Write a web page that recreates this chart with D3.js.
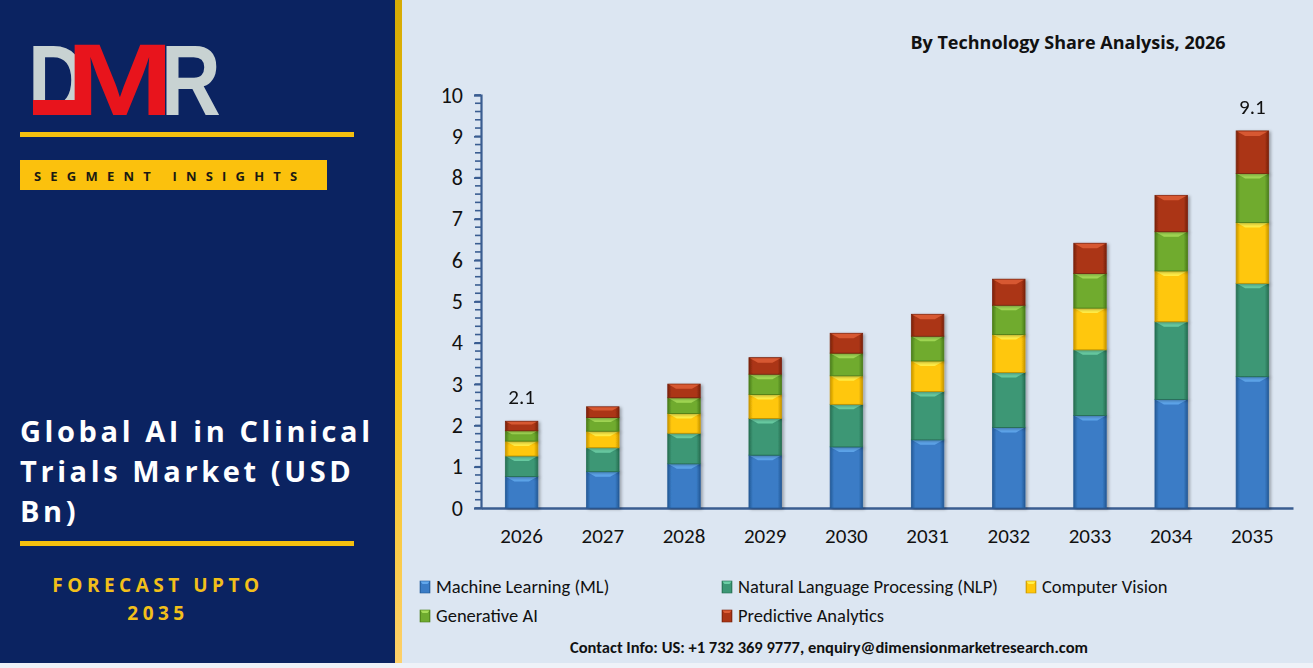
<!DOCTYPE html>
<html>
<head>
<meta charset="utf-8">
<script src="https://cdn.jsdelivr.net/npm/d3@7"></script>
<style>
  html, body { margin: 0; padding: 0; background: #ffffff; }
  svg { display: block; }
</style>
</head>
<body>
<div id="chart"></div>
<script>

// ----------------------------------
// DATA (USD Bn)
// ----------------------------------

const years = ['2026', '2027', '2028', '2029', '2030', '2031', '2032', '2033', '2034', '2035'];

const machineLearning  = [0.76, 0.88, 1.07, 1.28, 1.48, 1.65, 1.95, 2.24, 2.63, 3.18];
const naturalLanguage  = [0.50, 0.58, 0.74, 0.89, 1.03, 1.17, 1.33, 1.59, 1.88, 2.26];
const computerVision   = [0.36, 0.40, 0.48, 0.58, 0.69, 0.74, 0.92, 1.01, 1.23, 1.47];
const generativeAI     = [0.25, 0.33, 0.38, 0.49, 0.55, 0.60, 0.71, 0.84, 0.95, 1.19];
const predictive       = [0.23, 0.26, 0.33, 0.40, 0.48, 0.53, 0.63, 0.73, 0.88, 1.03];

const seriesNames = [
	'Machine Learning (ML)',
	'Natural Language Processing (NLP)',
	'Computer Vision',
	'Generative AI',
	'Predictive Analytics'
];

const yTicks = [0, 1, 2, 3, 4, 5, 6, 7, 8, 9, 10];
const labelledYears = ['2026', '2035'];

// ----------------------------------
// LOOK
// ----------------------------------

const W = 1313, H = 668;
const colors = {
	main:  ['#3a7cc6', '#3c9775', '#ffc70a', '#6fab2f', '#ab3515'],
	light: ['#62a8ec', '#6ccfa6', '#fff14d', '#a6dc58', '#dc5c34'],
	dark:  ['#245a97', '#276f52', '#c89600', '#4b7d1a', '#7a220b']
};
const calibri = 'Carlito, "Liberation Sans Narrow", "Open Sans", sans-serif';
const axisBlue = '#3a5d91';

const table = years.map((y, i) => ({
	year: y,
	s0: machineLearning[i],
	s1: naturalLanguage[i],
	s2: computerVision[i],
	s3: generativeAI[i],
	s4: predictive[i]
}));
const keys = ['s0', 's1', 's2', 's3', 's4'];
const stacked = d3.stack().keys(keys)(table);

const svg = d3.select('#chart')
	.append('svg')
	.attr('width', W)
	.attr('height', H);

const defs = svg.append('defs');

defs.append('linearGradient')
	.attr('id', 'stripe')
	.attr('x1', 0).attr('y1', 0).attr('x2', 0).attr('y2', 1)
	.selectAll('stop')
	.data([['0%', '#d6ab05'], ['50%', '#f5c20a'], ['100%', '#fdd06a']])
	.join('stop')
	.attr('offset', d => d[0])
	.attr('stop-color', d => d[1]);

colors.main.forEach((c, i) => {
	const g = defs.append('linearGradient')
		.attr('id', `bar${i}`)
		.attr('x1', 0).attr('y1', 0).attr('x2', 1).attr('y2', 0);
	g.append('stop').attr('offset', '0%').attr('stop-color', colors.dark[i]);
	g.append('stop').attr('offset', '12%').attr('stop-color', c);
	g.append('stop').attr('offset', '88%').attr('stop-color', c);
	g.append('stop').attr('offset', '100%').attr('stop-color', colors.dark[i]);
});

const shadow = defs.append('filter')
	.attr('id', 'shadow')
	.attr('x', '-20%').attr('y', '-5%')
	.attr('width', '150%').attr('height', '120%');
shadow.append('feDropShadow')
	.attr('dx', 2).attr('dy', 1)
	.attr('stdDeviation', 1.5)
	.attr('flood-color', '#000')
	.attr('flood-opacity', 0.3);

// ----------------------------------
// BACKGROUND PANELS
// ----------------------------------

svg.append('rect')
	.attr('x', 0).attr('y', 0)
	.attr('width', W).attr('height', H)
	.attr('fill', '#dce6f2');

svg.append('rect')
	.attr('x', 0).attr('y', 0)
	.attr('width', 396).attr('height', 663)
	.attr('fill', '#0b2361');

svg.append('rect')
	.attr('x', 395).attr('y', 0)
	.attr('width', 7).attr('height', 663)
	.attr('fill', 'url(#stripe)');

svg.append('rect')
	.attr('x', 0).attr('y', 663)
	.attr('width', W).attr('height', 5)
	.attr('fill', '#eef2f8');

// logo
const logo = svg.append('g')
	.style('font-family', '"Liberation Sans", Arial, sans-serif')
	.style('font-weight', 'bold')
	.style('font-size', '101px');
logo.append('text').attr('fill', '#c8d2d2')
	.attr('transform', 'translate(28,115) scale(0.8,1)').text('D');
logo.append('text').attr('fill', '#e8141c')
	.attr('transform', 'translate(66,115) scale(1.28,1)').text('M');
logo.append('text').attr('fill', '#c8d2d2')
	.attr('transform', 'translate(161,115) scale(0.82,1)').text('R');
logo.append('rect').attr('x', 33).attr('y', 100).attr('width', 46).attr('height', 15).attr('fill', '#e8141c');

svg.append('rect')
	.attr('x', 20).attr('y', 132)
	.attr('width', 334).attr('height', 5)
	.attr('fill', '#f5c00e');

svg.append('rect')
	.attr('x', 20).attr('y', 160)
	.attr('width', 307).attr('height', 30)
	.attr('fill', '#fbc10d');

svg.append('text')
	.attr('x', 34).attr('y', 181)
	.attr('fill', '#1b1a12')
	.style('font-family', '"Open Sans", sans-serif')
	.style('font-weight', 'bold')
	.style('font-size', '13px')
	.style('letter-spacing', '9.2px')
	.text('SEGMENT INSIGHTS');

const titleLines = ['Global AI in Clinical', 'Trials Market (USD', 'Bn)'];
svg.append('g')
	.selectAll('text')
	.data(titleLines)
	.join('text')
	.attr('x', 20)
	.attr('y', (d, i) => 442 + i * 40)
	.attr('fill', '#ffffff')
	.style('font-family', '"Open Sans", sans-serif')
	.style('font-weight', 'bold')
	.style('font-size', '29px')
	.style('letter-spacing', '3.6px')
	.text(d => d);

svg.append('rect')
	.attr('x', 20).attr('y', 541)
	.attr('width', 334).attr('height', 5)
	.attr('fill', '#f5c00e');

svg.append('g')
	.selectAll('text')
	.data(['FORECAST UPTO', '2035'])
	.join('text')
	.attr('x', 158)
	.attr('y', (d, i) => 592 + i * 28)
	.attr('text-anchor', 'middle')
	.attr('fill', '#f2bf1a')
	.style('font-family', '"Open Sans", sans-serif')
	.style('font-weight', 'bold')
	.style('font-size', '19px')
	.style('letter-spacing', '4.5px')
	.text(d => d);

// ----------------------------------
// SCALES
// ----------------------------------

const margin = { left: 481, top: 95, right: 20, bottom: 160 };
const innerWidth = 812;
const innerHeight = 413;

const xScale = d3.scaleBand()
	.domain(years)
	.range([0, innerWidth])
	.paddingInner(0.6)
	.paddingOuter(0.3);

const yScale = d3.scaleLinear()
	.domain([0, 10])
	.range([innerHeight, 0]);

const chartInner = svg.append('g')
	.attr('transform', `translate(${margin.left}, ${margin.top})`);

// ----------------------------------
// AXES
// ----------------------------------

const minorTicks = d3.range(0, 10.01, 0.2);
chartInner.append('g')
	.selectAll('line')
	.data(minorTicks)
	.join('line')
	.attr('x1', -6).attr('x2', 0)
	.attr('y1', d => yScale(d))
	.attr('y2', d => yScale(d))
	.attr('stroke', axisBlue)
	.attr('stroke-width', 1.6);

const yAxis = chartInner.append('g')
	.call(d3.axisLeft(yScale).tickValues(yTicks).tickSize(7).tickPadding(11).tickFormat(d3.format('d')));
yAxis.select('.domain').attr('stroke', axisBlue).attr('stroke-width', 2.2);
yAxis.selectAll('.tick line').attr('stroke', axisBlue).attr('stroke-width', 1.8);
yAxis.selectAll('.tick text')
	.attr('fill', '#111')
	.style('font-family', calibri)
	.style('font-size', '22px');

const xAxis = chartInner.append('g')
	.attr('transform', `translate(0, ${innerHeight})`)
	.call(d3.axisBottom(xScale).tickSize(0).tickPadding(20));
xAxis.select('.domain').attr('stroke', axisBlue).attr('stroke-width', 2.6);
xAxis.selectAll('.tick text')
	.attr('fill', '#111')
	.style('font-family', calibri)
	.style('font-size', '21px');

// ----------------------------------
// BARS
// ----------------------------------

const bw = xScale.bandwidth();
stacked.forEach((layer, i) => {
	const g = chartInner.append('g').attr('filter', 'url(#shadow)');
	const seg = g.selectAll('g')
		.data(layer)
		.join('g');

	seg.append('rect')
		.attr('x', d => xScale(d.data.year))
		.attr('y', d => yScale(d[1]))
		.attr('width', bw)
		.attr('height', d => yScale(d[0]) - yScale(d[1]))
		.attr('fill', `url(#bar${i})`)
		.attr('stroke', colors.dark[i])
		.attr('stroke-width', 0.8);

	seg.append('path')
		.attr('fill', colors.light[i])
		.attr('opacity', 0.9)
		.attr('d', d => {
			const x0 = xScale(d.data.year), y0 = yScale(d[1]);
			const b = Math.min(5, (yScale(d[0]) - yScale(d[1])) / 3);
			return `M${x0 + 1},${y0 + 0.5} L${x0 + bw - 1},${y0 + 0.5} L${x0 + bw - 1 - b * 1.6},${y0 + b} L${x0 + 1 + b * 1.6},${y0 + b} Z`;
		});
});

// total labels on first and last bars
chartInner.append('g')
	.selectAll('text')
	.data(table.filter(d => labelledYears.includes(d.year)))
	.join('text')
	.attr('x', d => xScale(d.year) + bw / 2)
	.attr('y', d => yScale(d3.sum(keys, k => d[k])) - 17)
	.attr('text-anchor', 'middle')
	.attr('fill', '#111')
	.style('font-family', calibri)
	.style('font-size', '21px')
	.text(d => d3.format('.1f')(d3.sum(keys, k => d[k])));

// ----------------------------------
// TITLE, LEGEND, CONTACT
// ----------------------------------

svg.append('text')
	.attr('x', 1068).attr('y', 49)
	.attr('text-anchor', 'middle')
	.attr('fill', '#111')
	.style('font-family', '"Open Sans", sans-serif')
	.style('font-weight', 'bold')
	.style('font-size', '18px')
	.text('By Technology Share Analysis, 2026');

const legendPos = [[420, 587], [722, 587], [1026, 587], [420, 616], [722, 616]];
const legend = svg.append('g')
	.selectAll('g')
	.data(seriesNames)
	.join('g')
	.attr('transform', (d, i) => `translate(${legendPos[i][0]}, ${legendPos[i][1]})`);

legend.append('rect')
	.attr('x', 0).attr('y', -6)
	.attr('width', 10).attr('height', 12)
	.attr('fill', (d, i) => `url(#bar${i})`)
	.attr('stroke', (d, i) => colors.dark[i])
	.attr('stroke-width', 0.6);
legend.append('path')
	.attr('fill', (d, i) => colors.light[i])
	.attr('d', 'M0.5,-5.5 L9.5,-5.5 L7.5,-3 L2.5,-3 Z');

legend.append('text')
	.attr('x', 16).attr('y', 6)
	.attr('fill', '#111')
	.style('font-family', calibri)
	.style('font-size', '18.5px')
	.text(d => d);

svg.append('text')
	.attr('x', 829).attr('y', 653)
	.attr('text-anchor', 'middle')
	.attr('fill', '#111')
	.style('font-family', calibri)
	.style('font-weight', 'bold')
	.style('font-size', '16.5px')
	.text('Contact Info: US: +1 732 369 9777, enquiry@dimensionmarketresearch.com');

</script>
</body>
</html>
